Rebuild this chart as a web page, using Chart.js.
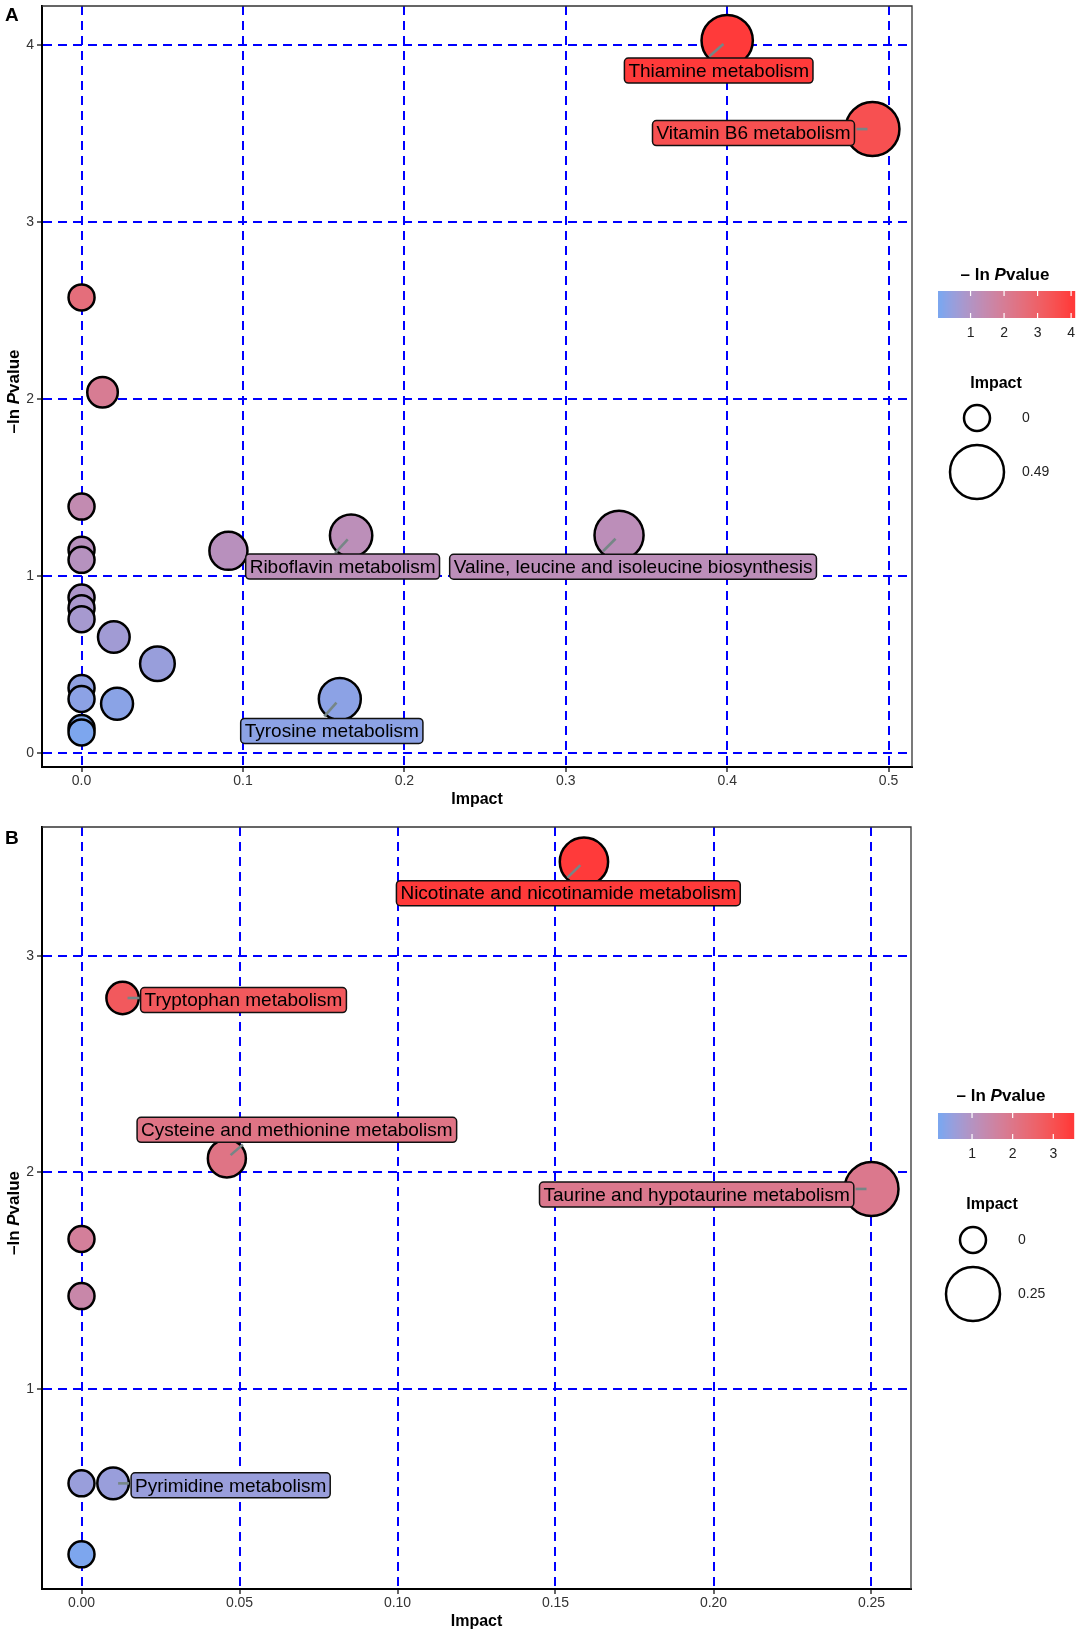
<!DOCTYPE html>
<html>
<head>
<meta charset="utf-8">
<script src="https://cdn.jsdelivr.net/npm/chart.js@4.4.1/dist/chart.umd.min.js"></script>
<style>
  html, body { margin: 0; padding: 0; background: #fff; }
  #wrap { position: relative; width: 1080px; height: 1637px; }
  canvas { position: absolute; left: 0; }
  #chartA { top: 0; }
  #chartB { top: 815px; }
</style>
</head>
<body>
<div id="wrap">
  <canvas id="chartA" width="1080" height="815"></canvas>
  <canvas id="chartB" width="1080" height="822"></canvas>
</div>
<script>
// ---- panel A data (sorted by -ln P, high to low) ----
const namesA = ["Thiamine metabolism", "Vitamin B6 metabolism", "", "", "",
  "Valine, leucine and isoleucine biosynthesis", "Riboflavin metabolism", "", "", "",
  "", "", "", "", "", "", "", "Tyrosine metabolism", "", "", ""];
const impactA = [0.400, 0.490, 0, 0.013, 0, 0.333, 0.167, 0, 0.091, 0,
  0, 0, 0, 0.020, 0.047, 0, 0, 0.160, 0.022, 0, 0];
const lnPA = [4.027, 3.527, 2.576, 2.040, 1.394, 1.232, 1.230, 1.150, 1.144, 1.093,
  0.880, 0.820, 0.758, 0.657, 0.506, 0.369, 0.307, 0.307, 0.280, 0.143, 0.118];
const xTicksA = [0, 0.1, 0.2, 0.3, 0.4, 0.5];
const yTicksA = [0, 1, 2, 3, 4];

// ---- panel B data ----
const namesB = ["Nicotinate and nicotinamide metabolism", "Tryptophan metabolism",
  "Cysteine and methionine metabolism", "Taurine and hypotaurine metabolism",
  "", "", "", "Pyrimidine metabolism", ""];
const impactB = [0.159, 0.013, 0.046, 0.250, 0, 0, 0, 0.010, 0];
const lnPB = [3.436, 2.806, 2.065, 1.924, 1.693, 1.429, 0.564, 0.564, 0.236];
const xTicksB = [0, 0.05, 0.10, 0.15, 0.20, 0.25];
const yTicksB = [1, 2, 3];

const FONT = "'Liberation Sans', Arial, Helvetica, sans-serif";
const LOW = "#7DA6EE", HIGH = "#FF3A3A";

// colour gradient interpolated in Lab, like ggplot
function toLin(c) { c /= 255; return c <= 0.04045 ? c / 12.92 : Math.pow((c + 0.055) / 1.055, 2.4); }
function fromLin(c) {
  c = c <= 0.0031308 ? 12.92 * c : 1.055 * Math.pow(c, 1 / 2.4) - 0.055;
  return Math.round(Math.max(0, Math.min(1, c)) * 255);
}
function hexToLab(hex) {
  const r = toLin(parseInt(hex.slice(1, 3), 16)), g = toLin(parseInt(hex.slice(3, 5), 16)), b = toLin(parseInt(hex.slice(5, 7), 16));
  const X = (0.4124 * r + 0.3576 * g + 0.1805 * b) / 0.95047;
  const Y = 0.2126 * r + 0.7152 * g + 0.0722 * b;
  const Z = (0.0193 * r + 0.1192 * g + 0.9505 * b) / 1.08883;
  const f = t => t > 0.008856 ? Math.cbrt(t) : 7.787 * t + 16 / 116;
  return [116 * f(Y) - 16, 500 * (f(X) - f(Y)), 200 * (f(Y) - f(Z))];
}
function labToRgb(L, a, b) {
  const fy = (L + 16) / 116, fx = fy + a / 500, fz = fy - b / 200;
  const inv = t => t * t * t > 0.008856 ? t * t * t : (t - 16 / 116) / 7.787;
  const X = inv(fx) * 0.95047, Y = inv(fy), Z = inv(fz) * 1.08883;
  const r = 3.2406 * X - 1.5372 * Y - 0.4986 * Z;
  const g = -0.9689 * X + 1.8758 * Y + 0.0415 * Z;
  const bl = 0.0557 * X - 0.2040 * Y + 1.0570 * Z;
  return "rgb(" + fromLin(r) + "," + fromLin(g) + "," + fromLin(bl) + ")";
}
const labLow = hexToLab(LOW), labHigh = hexToLab(HIGH);
function mix(t) {
  t = Math.max(0, Math.min(1, t));
  return labToRgb(labLow[0] + (labHigh[0] - labLow[0]) * t,
    labLow[1] + (labHigh[1] - labLow[1]) * t,
    labLow[2] + (labHigh[2] - labLow[2]) * t);
}

function roundRect(ctx, x, y, w, h, r) {
  ctx.beginPath();
  ctx.moveTo(x + r, y);
  ctx.lineTo(x + w - r, y);
  ctx.arcTo(x + w, y, x + w, y + r, r);
  ctx.lineTo(x + w, y + h - r);
  ctx.arcTo(x + w, y + h, x + w - r, y + h, r);
  ctx.lineTo(x + r, y + h);
  ctx.arcTo(x, y + h, x, y + h - r, r);
  ctx.lineTo(x, y + r);
  ctx.arcTo(x, y, x + r, y, r);
  ctx.closePath();
}

// "–ln Pvalue" with italic P, centred on (0,0) of the current transform
function drawLnP(ctx, prefix, size) {
  const parts = [[prefix, "bold"], ["P", "italic bold"], ["value", "bold"]];
  let total = 0;
  parts.forEach(p => { ctx.font = p[1] + " " + size + "px " + FONT; total += ctx.measureText(p[0]).width; });
  let x = -total / 2;
  ctx.textAlign = "left";
  ctx.textBaseline = "middle";
  parts.forEach(p => {
    ctx.font = p[1] + " " + size + "px " + FONT;
    ctx.fillText(p[0], x, 0);
    x += ctx.measureText(p[0]).width;
  });
}

function buildPanel(p) {
  const xMin = Math.min(...p.impact), xMax = Math.max(...p.impact);
  const yMin = Math.min(...p.lnP), yMax = Math.max(...p.lnP);
  const xPad = (xMax - xMin) * 0.05, yPad = (yMax - yMin) * 0.05;
  const colorAt = v => mix((v - yMin) / (yMax - yMin));
  const radiusAt = v => 13 + 14 * Math.sqrt(v / xMax);

  const decor = {
    id: "decor" + p.letter,
    beforeDatasetsDraw(chart) {
      const {ctx, chartArea: a} = chart;
      ctx.save();
      ctx.strokeStyle = "#333";
      ctx.lineWidth = 1.3;
      ctx.beginPath();
      ctx.moveTo(a.left, a.top);
      ctx.lineTo(a.right, a.top);
      ctx.lineTo(a.right, a.bottom);
      ctx.stroke();
      ctx.restore();
    },
    afterDatasetsDraw(chart) {
      // repelled labels
      const ctx = chart.ctx;
      const meta = chart.getDatasetMeta(0);
      ctx.save();
      p.names.forEach((name, i) => {
        if (!name) return;
        const L = p.labels[name];
        const el = meta.data[i];
        const cx = el.x, cy = el.y;
        const len = Math.hypot(L.sx, L.sy);
        ctx.strokeStyle = "#768686";
        ctx.lineWidth = 2.6;
        ctx.beginPath();
        ctx.moveTo(cx + L.sx / len * 5, cy + L.sy / len * 5);
        ctx.lineTo(cx + L.sx, cy + L.sy);
        ctx.stroke();

        ctx.font = "19px " + FONT;
        const tw = ctx.measureText(name).width;
        const w = tw + 8, h = 25;
        let bx;
        if (L.align === "left") bx = cx + L.dx;
        else if (L.align === "right") bx = cx + L.dx - w;
        else bx = cx + L.dx - w / 2;
        const by = cy + L.dy - h / 2;
        roundRect(ctx, bx, by, w, h, 4);
        ctx.fillStyle = colorAt(p.lnP[i]);
        ctx.fill();
        ctx.lineWidth = 1.5;
        ctx.strokeStyle = "#111";
        ctx.stroke();
        ctx.fillStyle = "#000";
        ctx.textAlign = "center";
        ctx.textBaseline = "middle";
        ctx.fillText(name, bx + w / 2, by + h / 2 + 1);
      });
      ctx.restore();
    },
    afterDraw(chart) {
      const {ctx, chartArea: a} = chart;
      const lg = p.legend;
      ctx.save();
      ctx.fillStyle = "#000";

      // y axis title
      ctx.save();
      ctx.translate(14, (a.top + a.bottom) / 2 + 5);
      ctx.rotate(-Math.PI / 2);
      drawLnP(ctx, "\u2013ln ", 17);
      ctx.restore();

      // panel letter
      ctx.font = "bold 19px " + FONT;
      ctx.textAlign = "left";
      ctx.textBaseline = "alphabetic";
      ctx.fillText(p.letter, 5, p.letterY);

      // colour bar
      ctx.save();
      ctx.translate(lg.titleX, lg.titleY);
      drawLnP(ctx, "\u2013 ln ", 17);
      ctx.restore();
      const bw = lg.barRight - lg.barLeft;
      for (let i = 0; i < bw; i++) {
        const v = yMin + (i + 0.5 - 3) / (bw - 6) * (yMax - yMin);
        ctx.fillStyle = colorAt(v);
        ctx.fillRect(lg.barLeft + i, lg.barTop, 1.2, lg.barH);
      }
      const valToX = v => lg.barLeft + 3 + (v - yMin) / (yMax - yMin) * (bw - 6);
      ctx.strokeStyle = "#fff";
      ctx.lineWidth = 1.2;
      ctx.font = "14px " + FONT;
      ctx.textAlign = "center";
      ctx.textBaseline = "middle";
      for (let t = Math.ceil(yMin); t <= Math.floor(yMax); t++) {
        const x = valToX(t);
        ctx.beginPath();
        ctx.moveTo(x, lg.barTop); ctx.lineTo(x, lg.barTop + 5);
        ctx.moveTo(x, lg.barTop + lg.barH - 5); ctx.lineTo(x, lg.barTop + lg.barH);
        ctx.stroke();
        ctx.fillStyle = "#222";
        ctx.fillText(String(t), x, lg.tickY);
      }

      // size legend
      ctx.fillStyle = "#000";
      ctx.font = "bold 16px " + FONT;
      ctx.fillText("Impact", lg.sizeTitleX, lg.sizeTitleY);
      ctx.strokeStyle = "#000";
      ctx.lineWidth = 2.5;
      [[0, lg.c0], [xMax, lg.c1]].forEach(([v, cy]) => {
        ctx.beginPath();
        ctx.arc(lg.cx, cy, radiusAt(v), 0, Math.PI * 2);
        ctx.stroke();
        ctx.fillStyle = "#222";
        ctx.font = "14px " + FONT;
        ctx.textAlign = "left";
        ctx.fillText(String(v), lg.labelX, cy);
      });
      ctx.restore();
    }
  };

  const tickFont = {family: FONT, size: 14};
  return new Chart(document.getElementById(p.canvas), {
    type: "scatter",
    data: {
      datasets: [{
        data: p.impact.map((x, i) => ({x: x, y: p.lnP[i]})),
        pointRadius: c => radiusAt(p.impact[c.dataIndex]),
        pointHoverRadius: c => radiusAt(p.impact[c.dataIndex]),
        pointBackgroundColor: c => colorAt(p.lnP[c.dataIndex]),
        pointBorderColor: "#000",
        pointBorderWidth: 2.5,
        clip: false
      }]
    },
    options: {
      responsive: false,
      animation: false,
      devicePixelRatio: 1,
      events: [],
      layout: {padding: p.padding, autoPadding: false},
      plugins: {legend: {display: false}, tooltip: {enabled: false}},
      scales: {
        x: {
          type: "linear",
          min: xMin - xPad,
          max: xMax + xPad,
          afterBuildTicks: s => { s.ticks = p.xTicks.map(v => ({value: v})); },
          afterFit: s => { s.height = p.xAxisH; s.paddingLeft = 0; s.paddingRight = 0; },
          ticks: {callback: v => v.toFixed(p.decimals), color: "#333", font: tickFont, padding: 1, maxRotation: 0, autoSkip: false},
          grid: {color: "#0000ff", lineWidth: 2, drawTicks: true, tickLength: 5, tickColor: "#333", tickWidth: 1.5},
          border: {display: true, color: "#000", width: 2, dash: [9, 6]},
          title: {display: true, text: "Impact", color: "#000", font: {family: FONT, size: 16, weight: "bold"}, padding: {top: 0, bottom: 5.4}}
        },
        y: {
          type: "linear",
          min: yMin - yPad,
          max: yMax + yPad,
          afterBuildTicks: s => { s.ticks = p.yTicks.map(v => ({value: v})); },
          afterFit: s => { s.width = 42; s.paddingTop = 0; s.paddingBottom = 0; },
          ticks: {callback: v => String(v), color: "#333", font: tickFont, padding: 3, autoSkip: false},
          grid: {color: "#0000ff", lineWidth: 2, drawTicks: true, tickLength: 5, tickColor: "#333", tickWidth: 1.5},
          border: {display: true, color: "#000", width: 2, dash: [9, 6]}
        }
      }
    },
    plugins: [decor]
  });
}

buildPanel({
  canvas: "chartA", letter: "A", letterY: 21,
  names: namesA, impact: impactA, lnP: lnPA, xTicks: xTicksA, yTicks: yTicksA, decimals: 1,
  padding: {left: 0, right: 168, top: 6, bottom: 0}, xAxisH: 48,
  labels: {
    "Thiamine metabolism": {dx: -8.5, dy: 30, align: "center", sx: -18, sy: 16},
    "Vitamin B6 metabolism": {dx: -18, dy: 4, align: "right", sx: -16, sy: 0},
    "Riboflavin metabolism": {dx: -8.5, dy: 31, align: "center", sx: -16, sy: 17.5},
    "Valine, leucine and isoleucine biosynthesis": {dx: 14, dy: 31.5, align: "center", sx: -16, sy: 16},
    "Tyrosine metabolism": {dx: -8, dy: 32, align: "center", sx: -15.5, sy: 17.5}
  },
  legend: {titleX: 1005, titleY: 275, barLeft: 938, barRight: 1075, barTop: 291, barH: 27, tickY: 333,
    sizeTitleX: 996, sizeTitleY: 384, cx: 977, c0: 418, c1: 472, labelX: 1022}
});

buildPanel({
  canvas: "chartB", letter: "B", letterY: 28.5,
  names: namesB, impact: impactB, lnP: lnPB, xTicks: xTicksB, yTicks: yTicksB, decimals: 2,
  padding: {left: 0, right: 169, top: 12, bottom: 0}, xAxisH: 48,
  labels: {
    "Nicotinate and nicotinamide metabolism": {dx: -15.6, dy: 31.5, align: "center", sx: -16.5, sy: 16},
    "Tryptophan metabolism": {dx: 18, dy: 2, align: "left", sx: 17, sy: 0},
    "Cysteine and methionine metabolism": {dx: 70, dy: -28.6, align: "center", sx: 16, sy: -14},
    "Taurine and hypotaurine metabolism": {dx: -17.7, dy: 5.6, align: "right", sx: -16, sy: 0},
    "Pyrimidine metabolism": {dx: 18, dy: 2, align: "left", sx: 16, sy: 0}
  },
  legend: {titleX: 1001, titleY: 281, barLeft: 938, barRight: 1074, barTop: 298, barH: 26, tickY: 339,
    sizeTitleX: 992, sizeTitleY: 390, cx: 973, c0: 425, c1: 479, labelX: 1018}
});
</script>
</body>
</html>
